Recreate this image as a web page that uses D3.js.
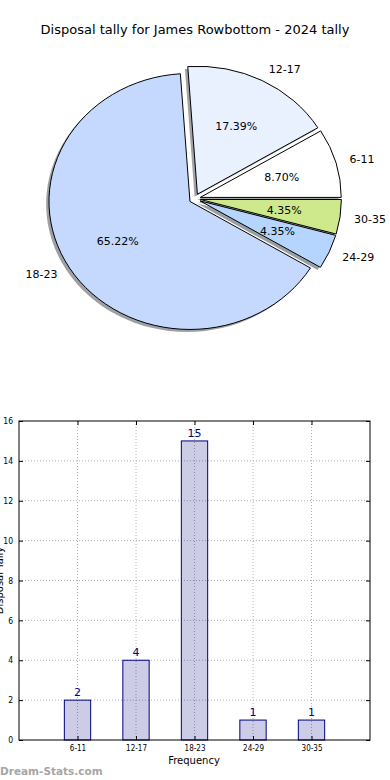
<!DOCTYPE html>
<html><head><meta charset="utf-8">
<script src="https://cdn.jsdelivr.net/npm/d3@7"></script>
<style>
html,body{margin:0;padding:0;background:#fff;}
svg{display:block;font-family:"DejaVu Sans",sans-serif;}
</style></head>
<body>
<svg id="c" width="390" height="780"></svg>
<script>
const title = "Disposal tally for James Rowbottom - 2024 tally";
const categories = ["6-11","12-17","18-23","24-29","30-35"];
const values = [2,4,15,1,1];
const sliceColors = ["#ffffff","#eaf1fe","#c5d9fe","#b5d5ff","#cde98b"];
const yTicks = [0,2,4,6,8,10,12,14,16];
const xLabel = "Frequency";
const yLabel = "Disposal Tally";
const watermark = "Dream-Stats.com";

const svg = d3.select("#c");

svg.append("text").attr("x",195).attr("y",34).attr("text-anchor","middle")
  .attr("font-size",13).attr("fill","#000").text(title);

// ---------- pie ----------
const cx = 194.8, cy = 198.8, rx = 141, ry = 128, expl = 0.04;
const total = d3.sum(values);
const pie = d3.pie().sort(null).value(d=>d).startAngle(Math.PI/2).endAngle(Math.PI/2 - 2*Math.PI);
const arcs = pie(values);
const arc = d3.arc().innerRadius(0).outerRadius(rx);
const sy = ry/rx;
const pieG = svg.append("g");
function offs(a){
  const m = (a.startAngle + a.endAngle)/2;
  return {dx: Math.sin(m), dy: -Math.cos(m)};
}
// shadows
arcs.forEach((a,i)=>{
  const o = offs(a);
  const x = cx + expl*rx*o.dx - 0.02*rx, y = cy + expl*ry*o.dy + 0.02*ry;
  const c = d3.rgb(sliceColors[i]);
  pieG.append("path").attr("d", arc(a))
    .attr("transform",`translate(${x},${y}) scale(1,${sy})`)
    .attr("fill", d3.rgb(c.r*0.3,c.g*0.3,c.b*0.3)).attr("fill-opacity",0.5)
    .attr("stroke","none");
});
arcs.forEach((a,i)=>{
  const o = offs(a);
  const x = cx + expl*rx*o.dx, y = cy + expl*ry*o.dy;
  pieG.append("path").attr("d", arc(a))
    .attr("transform",`translate(${x},${y}) scale(1,${sy})`)
    .attr("fill", sliceColors[i]).attr("stroke","#000").attr("stroke-width",1)
    .attr("vector-effect","non-scaling-stroke");
  const lx = x + 1.1*rx*o.dx, ly = y + 1.1*ry*o.dy;
  pieG.append("text").attr("x",lx).attr("y",ly).attr("dy","0.35em")
    .attr("text-anchor", o.dx>0 ? "start":"end").attr("font-size",11).text(categories[i]);
  const px = x + 0.6*rx*o.dx, py = y + 0.6*ry*o.dy;
  pieG.append("text").attr("x",px).attr("y",py).attr("dy","0.35em")
    .attr("text-anchor","middle").attr("font-size",11)
    .text((values[i]/total*100).toFixed(2)+"%");
});

// ---------- bar ----------
const L=19, R=370, T=421, B=740;
const x = d3.scaleLinear().domain([0,6]).range([L,R]);
const y = d3.scaleLinear().domain([0,16]).range([B,T]);
const bw = 0.45;
const g = svg.append("g");
const condensed = "'DejaVu Sans Condensed','DejaVu Sans',sans-serif";

// grid
g.selectAll(".gy").data(yTicks.slice(1,-1)).enter().append("line")
  .attr("x1",L).attr("x2",R).attr("y1",d=>y(d)).attr("y2",d=>y(d))
  .attr("stroke","#b0b0b0").attr("stroke-dasharray","1,2");
g.selectAll(".gx").data(categories).enter().append("line")
  .attr("x1",(d,i)=>x(i+1)).attr("x2",(d,i)=>x(i+1)).attr("y1",T).attr("y2",B)
  .attr("stroke","#b0b0b0").attr("stroke-dasharray","1,2");

// bars
g.selectAll(".bar").data(values).enter().append("rect")
  .attr("x",(d,i)=>x(i+1-bw/2)).attr("width",x(bw)-x(0))
  .attr("y",d=>y(d)).attr("height",d=>B-y(d))
  .attr("fill","#000080").attr("fill-opacity",0.2)
  .attr("stroke","#000080").attr("stroke-width",1);
g.selectAll(".vl").data(values).enter().append("text")
  .attr("x",(d,i)=>x(i+1)).attr("y",d=>y(d)-4).attr("text-anchor","middle")
  .attr("font-size",11).attr("fill","#000080").text(d=>d);

// axes
const yAxis = d3.axisLeft(y).tickValues(yTicks).tickSize(-4).tickPadding(6);
const ay = g.append("g").attr("transform",`translate(${L},0)`).call(yAxis);
ay.selectAll("text").attr("font-size",8.5).attr("font-family",condensed).attr("fill","#000");
g.append("g").attr("transform",`translate(${R},0)`).call(d3.axisRight(y).tickValues(yTicks).tickSize(-4).tickFormat(""));
const xAxis = d3.axisBottom(x).tickValues(categories.map((c,i)=>i+1)).tickFormat((d)=>categories[d-1]).tickSize(-4).tickPadding(5);
const ax = g.append("g").attr("transform",`translate(0,${B})`).call(xAxis);
ax.selectAll("text").attr("font-size",8).attr("font-family",condensed).attr("fill","#000");
g.append("g").attr("transform",`translate(0,${T})`).call(d3.axisTop(x).tickValues([1,2,3,4,5]).tickSize(-4).tickFormat(""));
g.selectAll(".domain").remove();
g.selectAll(".tick line").attr("stroke","#000");
g.append("rect").attr("x",L).attr("y",T).attr("width",R-L).attr("height",B-T)
  .attr("fill","none").attr("stroke","#000").attr("stroke-width",1);

svg.append("text").attr("x",194).attr("y",764).attr("text-anchor","middle")
  .attr("font-size",10).text(xLabel);
svg.append("text").attr("transform",`translate(3,580.5) rotate(-90)`)
  .attr("text-anchor","middle").attr("font-size",10).text(yLabel);
svg.append("text").attr("x",0).attr("y",775).attr("font-size",10.5).attr("font-weight","bold")
  .attr("fill","#a6a6a6").attr("font-family","'DejaVu Sans',sans-serif").text(watermark);
</script>
</body></html>
